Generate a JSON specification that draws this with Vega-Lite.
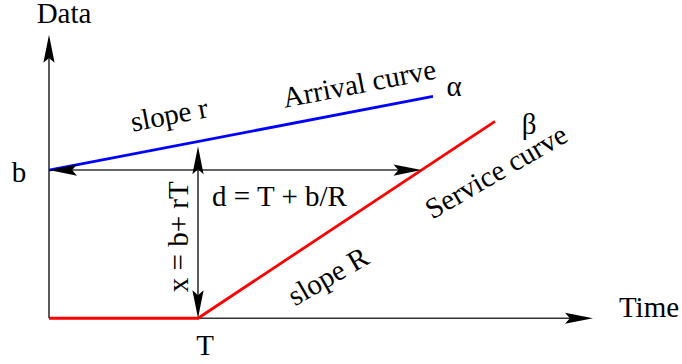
{
  "$schema": "https://vega.github.io/schema/vega-lite/v6.json",
  "width": 682,
  "height": 364,
  "padding": 0,
  "autosize": {"type": "fit", "contains": "padding"},
  "background": "white",
  "config": {"view": {"stroke": null}},
  "datasets": {
    "segments": [
      {"name": "data axis", "x": 0, "y": 0, "x2": 0, "y2": 27.5},
      {"name": "time axis", "x": 0, "y": 0, "x2": 53.4, "y2": 0},
      {"name": "delay", "x": 1, "y": 14.9, "x2": 36.25, "y2": 14.9},
      {"name": "backlog", "x": 14.9, "y": 1, "x2": 14.9, "y2": 16.3}
    ],
    "curves": [
      {"curve": "arrival", "order": 1, "x": 0, "y": 14.9},
      {"curve": "arrival", "order": 2, "x": 38.4, "y": 22.3},
      {"curve": "service", "order": 1, "x": 0, "y": 0},
      {"curve": "service", "order": 2, "x": 14.9, "y": 0},
      {"curve": "service", "order": 3, "x": 44.6, "y": 19.8}
    ],
    "heads": [
      {"x": 0, "y": 28.5, "dir": "up"},
      {"x": 54.4, "y": 0, "dir": "right"},
      {"x": 0, "y": 14.9, "dir": "left"},
      {"x": 37.25, "y": 14.9, "dir": "right"},
      {"x": 14.9, "y": 17.3, "dir": "up"},
      {"x": 14.9, "y": 0, "dir": "down"}
    ],
    "labels": [
      {"text": "Data", "x": 1.5, "y": 29.7, "orient": "flat"},
      {"text": "Time", "x": 60.0, "y": 0.1, "orient": "flat"},
      {"text": "b", "x": -3.0, "y": 13.7, "orient": "flat"},
      {"text": "T", "x": 15.6, "y": -3.7, "orient": "flat"},
      {"text": "d = T + b/R", "x": 23.05, "y": 11.3, "orient": "flat"},
      {"text": "α", "x": 40.5, "y": 22.3, "orient": "flat"},
      {"text": "β", "x": 48.0, "y": 18.5, "orient": "flat"},
      {"text": "slope r", "x": 12.2, "y": 19.5, "orient": "arrival"},
      {"text": "Arrival curve", "x": 31.2, "y": 22.65, "orient": "arrival"},
      {"text": "slope R", "x": 28.4, "y": 3.4, "orient": "service"},
      {"text": "Service curve", "x": 45.2, "y": 13.9, "orient": "service"},
      {"text": "x = b+ rT", "x": 13.9, "y": 8.2, "orient": "vertical"}
    ]
  },
  "encoding": {
    "x": {"field": "x", "type": "quantitative", "axis": null, "scale": {"domain": [-4.9, 63.3], "nice": false, "zero": false}},
    "y": {"field": "y", "type": "quantitative", "axis": null, "scale": {"domain": [-4.6, 31.8], "nice": false, "zero": false}}
  },
  "layer": [
    {
      "data": {"name": "segments"},
      "mark": {"type": "rule", "color": "#333333", "strokeWidth": 1.6},
      "encoding": {
        "x2": {"field": "x2"},
        "y2": {"field": "y2"}
      }
    },
    {
      "data": {"name": "curves"},
      "mark": {"type": "line", "strokeWidth": 2.8},
      "encoding": {
        "order": {"field": "order", "type": "quantitative"},
        "color": {"field": "curve", "type": "nominal", "legend": null,
          "scale": {"domain": ["arrival", "service"], "range": ["#0000ff", "#ff0000"]}}
      }
    },
    {
      "data": {"name": "heads"},
      "transform": [{"filter": "datum.dir === 'up'"}],
      "mark": {"type": "point", "shape": "M0,0 L0.4,2 L0,1.65 L-0.4,2 Z", "filled": true, "color": "#000000", "opacity": 1, "size": 784, "strokeWidth": 0, "angle": 0}
    },
    {
      "data": {"name": "heads"},
      "transform": [{"filter": "datum.dir === 'right'"}],
      "mark": {"type": "point", "shape": "M0,0 L0.4,2 L0,1.65 L-0.4,2 Z", "filled": true, "color": "#000000", "opacity": 1, "size": 784, "strokeWidth": 0, "angle": 90}
    },
    {
      "data": {"name": "heads"},
      "transform": [{"filter": "datum.dir === 'down'"}],
      "mark": {"type": "point", "shape": "M0,0 L0.4,2 L0,1.65 L-0.4,2 Z", "filled": true, "color": "#000000", "opacity": 1, "size": 784, "strokeWidth": 0, "angle": 180}
    },
    {
      "data": {"name": "heads"},
      "transform": [{"filter": "datum.dir === 'left'"}],
      "mark": {"type": "point", "shape": "M0,0 L0.4,2 L0,1.65 L-0.4,2 Z", "filled": true, "color": "#000000", "opacity": 1, "size": 784, "strokeWidth": 0, "angle": 270}
    },
    {
      "data": {"name": "labels"},
      "transform": [{"filter": "datum.orient === 'flat'"}],
      "mark": {"type": "text", "font": "Liberation Serif", "fontSize": 29, "color": "#000000", "align": "center", "baseline": "alphabetic", "angle": 0},
      "encoding": {"text": {"field": "text"}}
    },
    {
      "data": {"name": "labels"},
      "transform": [{"filter": "datum.orient === 'arrival'"}],
      "mark": {"type": "text", "font": "Liberation Serif", "fontSize": 29, "color": "#000000", "align": "center", "baseline": "alphabetic", "angle": 349.1},
      "encoding": {"text": {"field": "text"}}
    },
    {
      "data": {"name": "labels"},
      "transform": [{"filter": "datum.orient === 'service'"}],
      "mark": {"type": "text", "font": "Liberation Serif", "fontSize": 29, "color": "#000000", "align": "center", "baseline": "alphabetic", "angle": 330},
      "encoding": {"text": {"field": "text"}}
    },
    {
      "data": {"name": "labels"},
      "transform": [{"filter": "datum.orient === 'vertical'"}],
      "mark": {"type": "text", "font": "Liberation Serif", "fontSize": 29, "color": "#000000", "align": "center", "baseline": "alphabetic", "angle": 270},
      "encoding": {"text": {"field": "text"}}
    }
  ]
}
